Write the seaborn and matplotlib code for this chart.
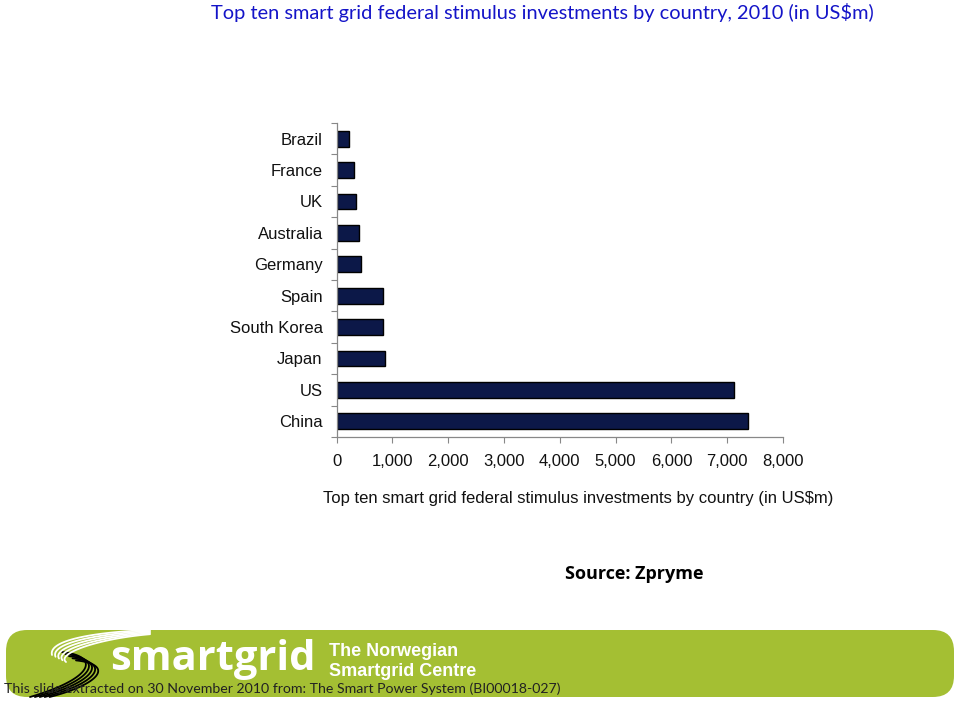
import numpy as np
import pandas as pd
import matplotlib
matplotlib.use("Agg")
import matplotlib.pyplot as plt
import seaborn as sns
from matplotlib.patches import FancyBboxPatch
from matplotlib.ticker import FixedLocator, FuncFormatter

countries = ["Brazil", "France", "UK", "Australia", "Germany", "Spain",
             "South Korea", "Japan", "US", "China"]
investments = [220, 310, 345, 405, 440, 835, 835, 870, 7130, 7380]
x_ticks = [0, 1000, 2000, 3000, 4000, 5000, 6000, 7000, 8000]

title = "Top ten smart grid federal stimulus investments by country, 2010 (in US$m)"
xlabel = "Top ten smart grid federal stimulus investments by country (in US$m)"
source = "Source: Zpryme"
footer = "This slide extracted on 30 November 2010 from: The Smart Power System (BI00018-027)"

sns.set_theme(style="white")
plt.rcParams["font.family"] = ["Liberation Sans", "DejaVu Sans"]

df = pd.DataFrame({"country": countries, "value": investments})

fig = plt.figure(figsize=(9.59, 7.02), dpi=100)
ax = fig.add_axes([0.351, 0.3775, 0.4655, 0.4473])

sns.barplot(data=df, x="value", y="country", orient="h", color="#0c1848",
            saturation=1, width=0.5, edgecolor="black", linewidth=1.0, ax=ax)

ax.set_xlim(0, 8000)
ax.set_ylim(len(countries) - 0.5, -0.5)
ax.xaxis.set_major_locator(FixedLocator(x_ticks))
ax.xaxis.set_major_formatter(FuncFormatter(lambda v, p: f"{int(v):,}"))
ax.set_xlabel("")
ax.set_ylabel("")
ax.yaxis.set_minor_locator(FixedLocator(np.arange(-0.5, len(countries), 1.0)))
ax.tick_params(axis="y", which="major", length=0, pad=10, labelsize=12, labelcolor="#111111")
ax.tick_params(axis="y", which="minor", left=True, length=4, width=0.8, color="#888888")
ax.tick_params(axis="x", which="major", bottom=True, length=4, width=0.8, color="#888888",
               pad=8, labelsize=12, labelcolor="#111111")
for s in ["top", "right"]:
    ax.spines[s].set_visible(False)
for s in ["left", "bottom"]:
    ax.spines[s].set_color("#888888")
    ax.spines[s].set_linewidth(0.9)

fig.text(0.603, 1 - 499 / 702, xlabel, ha="center", va="center", fontsize=12, color="#111111")

fig.text(0.566, 1 - 12 / 702, title, ha="center", va="center", fontsize=14.4,
         color="#1414c8", family=["Lato", "DejaVu Sans"])

fig.text(0.661, 1 - 574 / 702, source, ha="center", va="center", fontsize=13,
         fontweight="bold", color="black", family=["Open Sans", "DejaVu Sans"])

# footer banner
banner = FancyBboxPatch((6 / 959, 5 / 702), 948 / 959, 67 / 702,
                        boxstyle="round,pad=0,rounding_size=0.022",
                        transform=fig.transFigure, facecolor="#a4bf33",
                        edgecolor="none", mutation_aspect=959 / 702, zorder=0)
fig.patches.append(banner)


def bez(p0, p1, p2, p3, n=50):
    t = np.linspace(0, 1, n)[:, None]
    p0, p1, p2, p3 = map(np.array, (p0, p1, p2, p3))
    return ((1 - t) ** 3) * p0 + 3 * ((1 - t) ** 2) * t * p1 + 3 * (1 - t) * t ** 2 * p2 + t ** 3 * p3


# swoosh decoration (white upper sweep, black lower sweep)
for i in range(5):
    d = i * 3.5
    w = bez((150, 630 + d * 0.3), (95, 632 + d * 0.5), (48 + d * 0.6, 640 + d), (52 + d, 655 + d * 0.5))
    fig.add_artist(plt.Line2D(w[:, 0] / 959, 1 - w[:, 1] / 702, transform=fig.transFigure,
                              color="white", lw=1.3, zorder=1))
    b = bez((62 + d, 652 + d * 0.6), (100 + d, 656 + d * 0.6), (95 + d * 0.5, 678 + d * 0.4),
            (30 + d * 1.4, 697))
    fig.add_artist(plt.Line2D(b[:, 0] / 959, 1 - b[:, 1] / 702, transform=fig.transFigure,
                              color="black", lw=1.3, zorder=1))

fig.text(110 / 959, 1 - 660 / 702, "smartgrid", ha="left", va="center", fontsize=30,
         fontweight="bold", color="white", family=["Open Sans", "DejaVu Sans"], zorder=2)
fig.text(329 / 959, 1 - 652 / 702, "The Norwegian", ha="left", va="center", fontsize=13,
         fontweight="bold", color="white", zorder=2)
fig.text(329 / 959, 1 - 671 / 702, "Smartgrid Centre", ha="left", va="center", fontsize=13,
         fontweight="bold", color="white", zorder=2)
fig.text(4 / 959, 1 - 689 / 702, footer, ha="left", va="center", fontsize=10.2,
         color="#222222", family=["Lato", "DejaVu Sans"], zorder=3)

fig.savefig("out.png", dpi=100)
